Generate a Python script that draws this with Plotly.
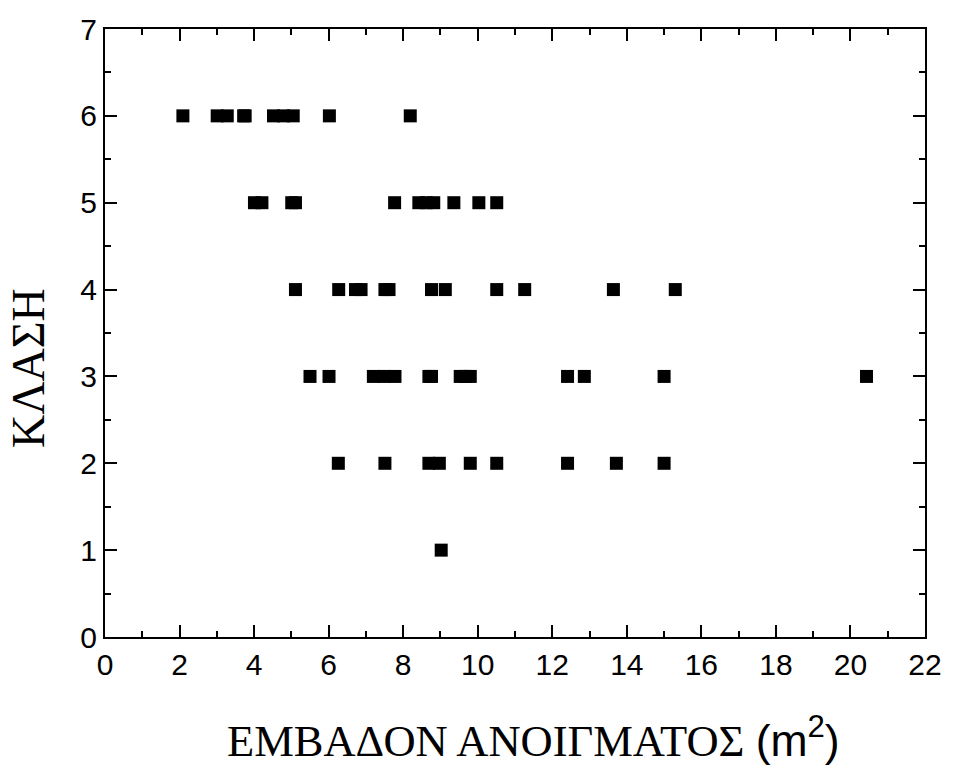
import plotly.graph_objects as go

# Data (opening area m^2 vs class)
x_class6 = [2.09, 3.01, 3.28, 3.72, 3.76, 4.52, 4.79, 5.05, 6.02, 8.19]
x_class5 = [4.01, 4.21, 5.01, 5.11, 7.77, 8.42, 8.62, 8.82, 9.36, 10.03, 10.51]
x_class4 = [5.11, 6.27, 6.72, 6.87, 7.51, 7.62, 8.76, 9.13, 10.51, 11.26, 13.64, 15.30]
x_class3 = [5.50, 6.01, 7.20, 7.49, 7.78, 8.69, 8.76, 9.53, 9.66, 9.80, 12.41, 12.86, 15.0, 20.43]
x_class2 = [6.26, 7.51, 8.69, 8.97, 9.80, 10.51, 12.41, 13.72, 15.0]
x_class1 = [9.02]

groups = [(6, x_class6), (5, x_class5), (4, x_class4), (3, x_class3), (2, x_class2), (1, x_class1)]
xs, ys = [], []
for cls, vals in groups:
    xs += vals
    ys += [cls] * len(vals)

x_ticks = list(range(0, 23, 2))
y_ticks = list(range(0, 8))

x_title = "ΕΜΒΑΔΟΝ ΑΝΟΙΓΜΑΤΟΣ <span style='font-family:Liberation Sans, Arial'>(m<sup>2</sup>)</span>"
y_title = "ΚΛΑΣΗ"

fig = go.Figure(go.Scatter(
    x=xs, y=ys, mode="markers",
    marker=dict(symbol="square", size=13, color="black", line=dict(width=0)),
))

axis_common = dict(
    showgrid=False, zeroline=False, showline=True, linecolor="black", linewidth=2,
    mirror="ticks", ticks="inside", ticklen=12, tickwidth=2, tickcolor="black",
    tickfont=dict(family="Liberation Sans, Arial", size=30, color="black"),
    minor=dict(ticks="inside", ticklen=6, tickwidth=2, tickcolor="black", showgrid=False),
)

fig.update_xaxes(range=[0, 22], tickvals=x_ticks, ticktext=[str(v) for v in x_ticks],
                 minor_dtick=1, **axis_common)
fig.update_yaxes(range=[0, 7], tickvals=y_ticks, ticktext=[str(v) for v in y_ticks],
                 minor_dtick=0.5, **axis_common)

title_font = dict(family="Liberation Serif, Times New Roman", color="black")
fig.add_annotation(text=x_title, xref="paper", yref="paper", x=0.522, y=-0.165,
                   xanchor="center", yanchor="middle", showarrow=False,
                   font=dict(size=44.5, **title_font))
fig.add_annotation(text=y_title, xref="paper", yref="paper", x=-0.093, y=0.442,
                   xanchor="center", yanchor="middle", showarrow=False, textangle=-90,
                   font=dict(size=46, **title_font))

fig.update_layout(
    width=954, height=768,
    margin=dict(l=105, r=22, t=25, b=131),
    plot_bgcolor="white", paper_bgcolor="white",
    showlegend=False,
)

fig.write_html(
    "out.html",
    config={"displayModeBar": False},
    post_script="document.body.style.margin='0';document.body.style.overflow='hidden';",
)
